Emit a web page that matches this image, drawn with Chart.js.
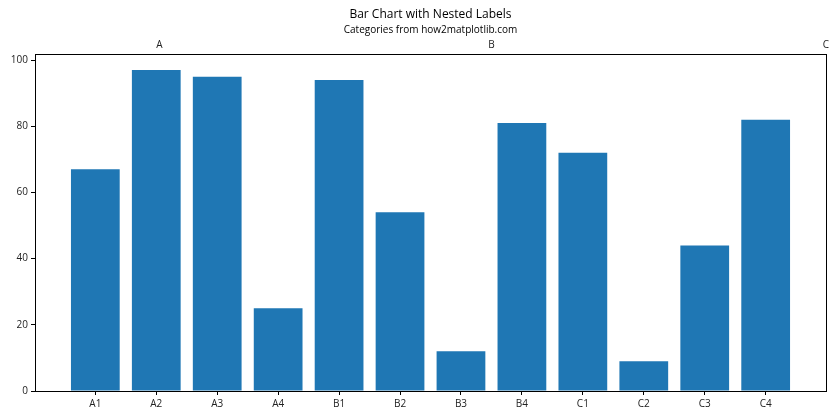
<!DOCTYPE html>
<html><head><meta charset="utf-8">
<script src="https://cdn.jsdelivr.net/npm/chart.js@4.4.0/dist/chart.umd.min.js"></script>
<style>html,body{margin:0;padding:0;background:#fff}#w{width:840px;height:420px}</style>
</head><body><div id="w"><canvas id="c" width="840" height="420"></canvas></div>
<script>
const categories = ["A1","A2","A3","A4","B1","B2","B3","B4","C1","C2","C3","C4"];
const values = [67,97,95,25,94,54,12,81,72,9,44,82];
const groupLabels = ["A","B","C"];
const groupPositions = [1.05,6.5,11.99];
const yTicks = [0,20,40,60,80,100];
const titleText = 'Bar Chart with Nested Labels';
const subtitleText = 'Categories from how2matplotlib.com';

const FONT = "'Open Sans', 'Noto Sans', sans-serif";
Chart.defaults.font.family = FONT;
Chart.defaults.color = '#222';

const headerPlugin = {
  id: 'header',
  afterDraw(chart) {
    const ctx = chart.ctx, xs = chart.scales.x, ca = chart.chartArea;
    const cx = (ca.left + ca.right) / 2;
    ctx.save();
    ctx.textAlign = 'center';
    ctx.textBaseline = 'middle';
    ctx.fillStyle = '#000';
    ctx.font = "12px " + FONT;
    ctx.fillText(titleText, cx, 15);
    ctx.font = "10px " + FONT;
    ctx.fillText(subtitleText, cx, 30);
    ctx.fillStyle = '#222';
    ctx.textBaseline = 'bottom';
    groupLabels.forEach((g,i) => ctx.fillText(g, xs.getPixelForValue(groupPositions[i]), ca.top - 4));
    ctx.restore();
  }
};

new Chart(document.getElementById('c'), {
  type: 'bar',
  plugins: [headerPlugin],
  data: {
    datasets: [{
      data: values.map((v,i)=>({x:i,y:v})),
      backgroundColor: '#1f77b4',
      borderWidth: 0,
      barPercentage: 0.8,
      categoryPercentage: 1.0,
      xAxisID: 'x', yAxisID: 'y'
    }]
  },
  options: {
    responsive: false, animation: false,
    layout: { padding: { left: 0, right: 0, top: 38.4, bottom: 0 } },
    plugins: {
      legend: { display: false }, tooltip: { enabled: false },
      title: { display: false }, subtitle: { display: false }
    },
    scales: {
      x: {
        type: 'linear', position: 'bottom', min: -0.99, max: 11.99, offset: false,
        afterBuildTicks: s => { s.ticks = categories.map((_,i)=>({value:i})); },
        ticks: { callback: v => categories[v], font:{size:10}, padding: 3, maxRotation:0, autoSkip:false },
        grid: { display: true, drawOnChartArea: false, offset: false, tickLength: 4, tickColor: '#000' },
        border: { display: true, color: '#000', width: 1 },
        afterFit: s => { s.height = 29; }
      },
      xTop: {
        type: 'linear', position: 'top', min: -0.99, max: 11.99, offset: false,
        ticks: { display: false },
        grid: { display: false },
        border: { display: true, color: '#000', width: 1 },
        afterFit: s => { s.height = 15.6; }
      },
      y: {
        type: 'linear', position: 'left', min: 0, max: 101.85,
        afterBuildTicks: s => { s.ticks = yTicks.map(v=>({value:v})); },
        ticks: { font:{size:10}, padding: 3 },
        grid: { display: true, drawOnChartArea: false, tickLength: 4, tickColor: '#000' },
        border: { display: true, color: '#000', width: 1 },
        afterFit: s => { s.width = 35; }
      },
      yRight: {
        type: 'linear', position: 'right', min: 0, max: 101.85,
        ticks: { display: false },
        grid: { display: false },
        border: { display: true, color: '#000', width: 1 },
        afterFit: s => { s.width = 14; }
      }
    }
  }
});
</script></body></html>
